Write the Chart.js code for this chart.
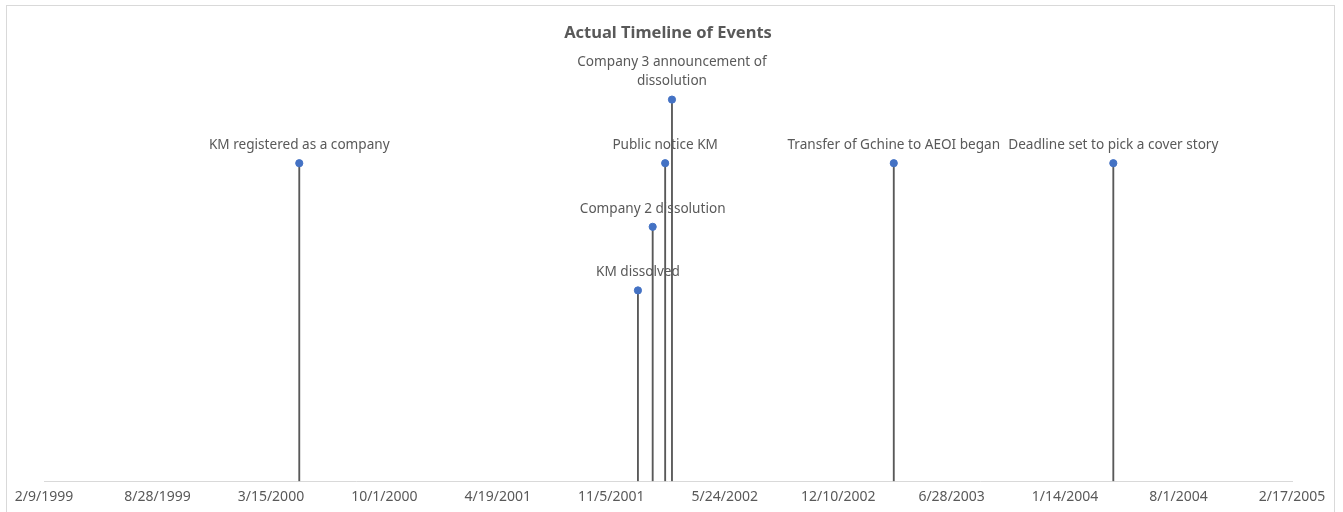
<!DOCTYPE html>
<html>
<head>
<meta charset="utf-8">
<script src="https://cdn.jsdelivr.net/npm/chart.js@4.4.1/dist/chart.umd.min.js"></script>
<style>
  html, body { margin: 0; padding: 0; background: #fff; }
  .wrap { position: relative; width: 1343px; height: 512px; overflow: hidden; }
  .frame { position: absolute; left: 6px; top: 5px; width: 1329px; height: 520px; border: 1.5px solid #d9d9d9; box-sizing: border-box; }
  canvas { position: absolute; left: 0; top: 0; }
</style>
</head>
<body>
<div class="wrap">
  <div class="frame"></div>
  <canvas id="chart" width="1343" height="512"></canvas>
</div>
<script>
// events
const eventLabels = [
  "KM registered as a company",
  "KM dissolved",
  "Company 2 dissolution",
  "Public notice KM",
  ["Company 3 announcement of", "dissolution"],
  "Transfer of Gchine to AEOI began",
  "Deadline set to pick a cover story"
];
const eventDates = ["2000-05-04", "2001-12-22", "2002-01-17", "2002-02-08", "2002-02-20", "2003-03-18", "2004-04-08"];
const eventHeights = [5, 3, 4, 5, 6, 5, 5];

const tickLabels = ["2/9/1999", "8/28/1999", "3/15/2000", "10/1/2000", "4/19/2001", "11/5/2001",
  "5/24/2002", "12/10/2002", "6/28/2003", "1/14/2004", "8/1/2004", "2/17/2005"];

const textColor = "#595959";

function isoDay(s) {
  const [y, m, d] = s.split("-").map(Number);
  return Date.UTC(y, m - 1, d) / 864e5;
}
function usDay(s) {
  const [m, d, y] = s.split("/").map(Number);
  return Date.UTC(y, m - 1, d) / 864e5;
}
function fmtDay(v) {
  const d = new Date(v * 864e5);
  return (d.getUTCMonth() + 1) + "/" + d.getUTCDate() + "/" + d.getUTCFullYear();
}

const points = eventDates.map((d, i) => ({ x: isoDay(d), y: eventHeights[i] }));

// draws the label text above each point
const labelPlugin = {
  id: "eventLabels",
  afterDatasetsDraw(chart) {
    const meta = chart.getDatasetMeta(1);
    const ctx = chart.ctx;
    ctx.save();
    ctx.font = "13.6px 'Noto Sans'";
    ctx.fillStyle = textColor;
    ctx.textAlign = "center";
    ctx.textBaseline = "middle";
    meta.data.forEach((pt, i) => {
      const lines = [].concat(eventLabels[i]);
      lines.forEach((line, j) => {
        const y = pt.y - 18 - (lines.length - 1 - j) * 19;
        ctx.fillText(line, pt.x, y);
      });
    });
    ctx.restore();
  }
};

const ctx = document.getElementById("chart").getContext("2d");
new Chart(ctx, {
  type: "scatter",
  data: {
    datasets: [
      {
        type: "bar",
        data: points,
        backgroundColor: "#595959",
        barThickness: 1.2,
        order: 1
      },
      {
        type: "scatter",
        data: points,
        backgroundColor: "#4472C4",
        borderColor: "#4472C4",
        pointRadius: 3.6,
        order: 0
      }
    ]
  },
  options: {
    responsive: false,
    animation: false,
    layout: { padding: { left: 44, right: 51, top: 0, bottom: 0 } },
    plugins: {
      legend: { display: false },
      tooltip: { enabled: false },
      title: {
        display: true,
        text: "Actual Timeline of Events",
        color: textColor,
        font: { family: "'Noto Sans'", size: 16.5, weight: "bold", lineHeight: 1.2 },
        padding: { top: 23, bottom: 25 }
      }
    },
    scales: {
      x: {
        type: "linear",
        offset: false,
        min: usDay(tickLabels[0]),
        max: usDay(tickLabels[tickLabels.length - 1]),
        afterBuildTicks: (scale) => {
          scale.ticks = tickLabels.map((t) => ({ value: usDay(t) }));
        },
        ticks: {
          color: textColor,
          font: { family: "'Noto Sans'", size: 14 },
          padding: 7,
          maxRotation: 0,
          autoSkip: false,
          callback: (v) => fmtDay(v)
        },
        grid: { display: false, drawTicks: false },
        border: { display: true, color: "#d9d9d9", width: 1 }
      },
      y: {
        display: false,
        min: 0,
        max: 6.5
      }
    }
  },
  plugins: [labelPlugin]
});
</script>
</body>
</html>
